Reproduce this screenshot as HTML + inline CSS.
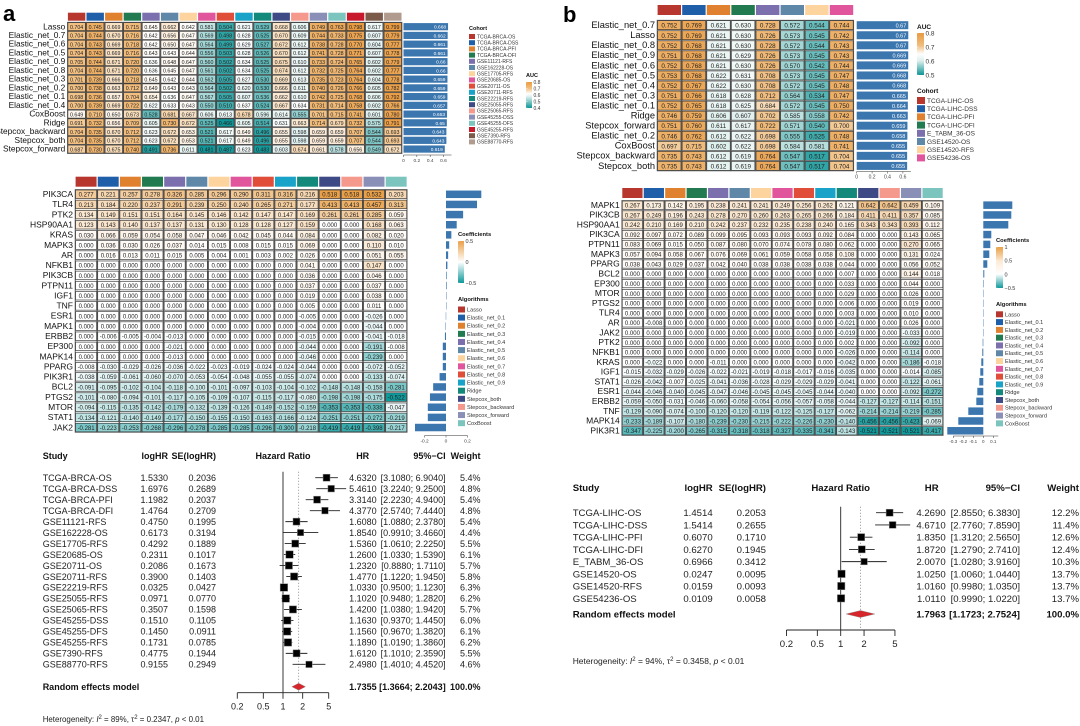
<!DOCTYPE html>
<html><head><meta charset="utf-8"><style>
html,body{margin:0;padding:0;background:#fff;}
svg{display:block;font-family:"Liberation Sans",Arial,sans-serif;}
</style></head><body>
<svg id="fig" width="1080" height="726" viewBox="0 0 1080 726" xmlns="http://www.w3.org/2000/svg">
<text x="3" y="21" font-size="22" font-weight="bold">a</text>
<text x="563" y="22" font-size="22" font-weight="bold">b</text>
</svg>
<script>
// ---------- DATA ----------
const cohortsA=["TCGA-BRCA-OS","TCGA-BRCA-DSS","TCGA-BRCA-PFI","TCGA-BRCA-DFI","GSE11121-RFS","GSE162228-OS","GSE17705-RFS","GSE20685-OS","GSE20711-OS","GSE20711-RFS","GSE22219-RFS","GSE25055-RFS","GSE25065-RFS","GSE45255-DSS","GSE45255-DFS","GSE45255-RFS","GSE7390-RFS","GSE88770-RFS"];
const cohortsB=["TCGA-LIHC-OS","TCGA-LIHC-DSS","TCGA-LIHC-PFI","TCGA-LIHC-DFI","E_TABM_36-OS","GSE14520-OS","GSE14520-RFS","GSE54236-OS"];
const algorithms=["Lasso","Elastic_net_0.1","Elastic_net_0.2","Elastic_net_0.3","Elastic_net_0.4","Elastic_net_0.5","Elastic_net_0.6","Elastic_net_0.7","Elastic_net_0.8","Elastic_net_0.9","Ridge","Stepcox_both","Stepcox_backward","Stepcox_forward","CoxBoost"];
const aucRowsA=["Lasso","Elastic_net_0.7","Elastic_net_0.6","Elastic_net_0.5","Elastic_net_0.9","Elastic_net_0.8","Elastic_net_0.3","Elastic_net_0.2","Elastic_net_0.1","Elastic_net_0.4","CoxBoost","Ridge","Stepcox_backward","Stepcox_both","Stepcox_forward"];
const aucA=[
[.704,.745,.669,.715,.645,.662,.642,.581,.504,.621,.529,.668,.606,.749,.763,.798,.617,.799],
[.704,.744,.670,.716,.642,.656,.647,.569,.498,.628,.525,.670,.609,.744,.733,.775,.607,.779],
[.704,.743,.669,.718,.642,.650,.647,.564,.499,.629,.527,.672,.612,.738,.728,.770,.604,.777],
[.704,.743,.669,.716,.643,.643,.644,.556,.503,.628,.526,.670,.612,.741,.728,.771,.607,.778],
[.705,.744,.671,.720,.636,.648,.647,.560,.502,.634,.525,.675,.610,.733,.724,.765,.602,.779],
[.704,.744,.671,.720,.636,.645,.647,.561,.502,.634,.525,.674,.612,.732,.725,.764,.602,.777],
[.701,.739,.666,.718,.645,.642,.644,.562,.505,.627,.530,.669,.613,.735,.723,.764,.604,.778],
[.700,.738,.663,.712,.649,.643,.643,.564,.502,.620,.530,.666,.611,.740,.726,.766,.605,.782],
[.698,.736,.657,.704,.654,.636,.647,.567,.505,.607,.536,.662,.610,.742,.725,.768,.606,.792],
[.700,.739,.669,.722,.622,.633,.643,.550,.510,.637,.524,.667,.634,.731,.714,.758,.602,.766],
[.649,.710,.650,.673,.528,.681,.667,.606,.613,.678,.596,.614,.555,.701,.715,.741,.601,.780],
[.691,.732,.656,.709,.605,.730,.672,.525,.466,.605,.514,.631,.663,.714,.679,.732,.575,.791],
[.704,.735,.670,.712,.623,.672,.653,.521,.617,.649,.496,.655,.598,.659,.659,.707,.544,.693],
[.704,.735,.670,.712,.623,.672,.653,.521,.617,.649,.496,.655,.598,.659,.659,.707,.544,.693],
[.687,.730,.675,.740,.491,.736,.611,.481,.487,.623,.483,.603,.674,.661,.578,.656,.549,.672]];
const aucMeanA=[.668,.662,.661,.661,.66,.66,.659,.659,.659,.657,.653,.65,.643,.643,.619];
const aucRowsB=["Elastic_net_0.7","Lasso","Elastic_net_0.8","Elastic_net_0.9","Elastic_net_0.6","Elastic_net_0.5","Elastic_net_0.4","Elastic_net_0.3","Elastic_net_0.1","Ridge","Stepcox_forward","Elastic_net_0.2","CoxBoost","Stepcox_backward","Stepcox_both"];
const aucB=[
[.752,.769,.621,.630,.728,.572,.544,.744],[.752,.769,.621,.630,.726,.573,.545,.742],
[.752,.768,.621,.630,.728,.572,.544,.743],[.751,.768,.621,.629,.726,.573,.545,.743],
[.752,.768,.621,.630,.726,.570,.542,.744],[.753,.768,.622,.631,.708,.573,.545,.747],
[.752,.767,.622,.630,.708,.572,.545,.748],[.751,.766,.618,.628,.712,.564,.534,.747],
[.752,.765,.618,.625,.684,.572,.545,.750],[.746,.759,.606,.607,.702,.585,.558,.742],
[.751,.760,.611,.617,.722,.571,.540,.700],[.746,.762,.612,.622,.698,.555,.525,.748],
[.697,.715,.602,.622,.698,.584,.581,.741],[.735,.743,.612,.619,.764,.547,.517,.704],
[.735,.743,.612,.619,.764,.547,.517,.704]];
const aucMeanB=[.67,.67,.67,.669,.669,.668,.668,.665,.664,.663,.659,.658,.655,.655,.655];
const genesA=["PIK3CA","TLR4","PTK2","HSP90AA1","KRAS","MAPK3","AR","NFKB1","PIK3CB","PTPN11","IGF1","TNF","ESR1","MAPK1","ERBB2","EP300","MAPK14","PPARG","PIK3R1","BCL2","PTGS2","MTOR","STAT1","JAK2"];
const coefA=[
[.277,.221,.257,.278,.326,.285,.296,.290,.311,.316,.216,.518,.518,.532,.203],
[.213,.184,.220,.237,.291,.239,.250,.240,.265,.271,.177,.413,.413,.457,.313],
[.134,.149,.151,.151,.164,.145,.146,.142,.147,.147,.169,.261,.261,.285,.059],
[.123,.143,.140,.137,.137,.131,.130,.128,.128,.127,.159,0,0,.168,.063],
[.030,.066,.059,.054,.058,.047,.046,.042,.045,.044,.084,0,0,.082,.020],
[0,.036,.030,.026,.037,.014,.015,.008,.015,.015,.069,0,0,.110,.010],
[0,.016,.013,.011,.015,.005,.004,.001,.003,.002,.026,0,0,.051,.055],
[0,0,0,0,0,0,0,0,0,0,.041,0,0,.147,0],
[0,0,0,0,0,0,0,0,0,0,.036,0,0,.046,0],
[0,0,0,0,0,0,0,0,0,0,.037,0,0,.037,0],
[0,0,0,0,0,0,0,0,0,0,.019,0,0,.038,0],
[0,0,0,0,0,0,0,0,0,0,.005,0,0,.011,0],
[0,0,0,0,0,0,0,0,0,0,-.005,0,0,-.026,0],
[0,0,0,0,0,0,0,0,0,0,-.004,0,0,-.044,0],
[0,-.006,-.005,-.004,-.013,0,0,0,0,0,-.015,0,0,-.041,-.018],
[0,0,0,0,-.021,0,0,0,0,0,-.044,0,0,-.191,-.008],
[0,0,0,0,-.013,0,0,0,0,0,-.046,0,0,-.239,0],
[-.008,-.030,-.029,-.026,-.036,-.022,-.023,-.019,-.024,-.024,-.044,0,0,-.072,-.052],
[-.038,-.059,-.061,-.060,-.070,-.053,-.054,-.048,-.055,-.055,-.074,0,0,-.133,-.074],
[-.091,-.095,-.102,-.104,-.118,-.100,-.101,-.097,-.103,-.104,-.102,-.148,-.148,-.158,-.281],
[-.101,-.080,-.094,-.101,-.117,-.105,-.109,-.107,-.115,-.117,-.080,-.198,-.198,-.175,-.522],
[-.094,-.115,-.135,-.142,-.179,-.132,-.139,-.126,-.149,-.152,-.159,-.353,-.353,-.338,-.047],
[-.134,-.121,-.140,-.149,-.177,-.150,-.155,-.150,-.163,-.166,-.124,-.251,-.251,-.272,-.219],
[-.281,-.223,-.253,-.268,-.296,-.278,-.285,-.285,-.296,-.300,-.218,-.419,-.419,-.398,-.217]];
const coefMeanA=[.33,.29,.16,.1,.05,.03,.02,.013,.006,.006,.004,.002,-.002,-.004,-.01,-.03,-.03,-.03,-.06,-.12,-.15,-.17,-.17,-.29];
const genesB=["MAPK1","PIK3CB","HSP90AA1","PIK3CA","PTPN11","MAPK3","PPARG","BCL2","EP300","MTOR","PTGS2","TLR4","AR","JAK2","PTK2","NFKB1","KRAS","IGF1","STAT1","ESR1","ERBB2","TNF","MAPK14","PIK3R1"];
const coefB=[
[.267,.173,.142,.195,.238,.241,.241,.249,.256,.262,.121,.642,.642,.459,.109],
[.267,.249,.196,.243,.278,.270,.260,.263,.265,.266,.184,.411,.411,.357,.085],
[.242,.210,.169,.210,.242,.237,.232,.235,.238,.240,.165,.343,.343,.393,.112],
[.092,.097,.072,.089,.099,.095,.093,.093,.093,.092,.084,0,0,.143,.065],
[.083,.069,.015,.050,.087,.080,.070,.074,.078,.080,.062,0,0,.270,.065],
[.057,.094,.058,.067,.076,.069,.061,.059,.058,.058,.108,0,0,.131,.024],
[.038,.043,.029,.037,.042,.040,.038,.038,.038,.038,.044,0,0,.056,.052],
[0,0,0,0,0,0,0,0,0,0,.007,0,0,.144,.018],
[0,0,0,0,0,0,0,0,0,0,.033,0,0,.044,0],
[0,0,0,0,0,0,0,0,0,0,.029,0,0,.026,0],
[0,0,0,0,0,0,0,0,0,0,.006,0,0,.019,0],
[0,0,0,0,0,0,0,0,0,0,.003,0,0,.010,0],
[0,-.008,0,0,0,0,0,0,0,0,-.021,0,0,.026,0],
[0,0,0,0,0,0,0,0,0,0,-.019,0,0,-.033,0],
[0,0,0,0,0,0,0,0,0,0,.002,0,0,-.092,0],
[0,0,0,0,0,0,0,0,0,0,-.026,0,0,-.114,0],
[0,-.022,0,0,-.011,0,0,0,0,0,-.042,0,0,-.186,-.018],
[-.015,-.032,-.029,-.026,-.022,-.021,-.019,-.018,-.017,-.016,-.035,0,0,-.014,-.085],
[-.026,-.042,-.007,-.025,-.041,-.036,-.028,-.029,-.029,-.029,-.041,0,0,-.122,-.061],
[-.044,-.046,-.040,-.045,-.047,-.046,-.045,-.045,-.045,-.044,-.040,0,0,-.092,-.272],
[-.059,-.050,-.031,-.046,-.060,-.058,-.054,-.056,-.057,-.058,-.044,-.127,-.127,-.114,-.151],
[-.129,-.090,-.074,-.100,-.120,-.120,-.119,-.122,-.125,-.127,-.062,-.214,-.214,-.219,-.285],
[-.233,-.189,-.107,-.180,-.239,-.230,-.215,-.222,-.226,-.230,-.140,-.456,-.456,-.423,-.069],
[-.347,-.225,-.200,-.265,-.315,-.318,-.318,-.327,-.335,-.341,-.143,-.521,-.521,-.521,-.417]];
const coefMeanB=[.29,.28,.25,.08,.07,.06,.04,.01,.005,.004,.002,.001,-.002,-.003,-.006,-.01,-.02,-.03,-.04,-.06,-.07,-.15,-.25,-.36];
const studiesA=["TCGA-BRCA-OS","TCGA-BRCA-DSS","TCGA-BRCA-PFI","TCGA-BRCA-DFI","GSE11121-RFS","GSE162228-OS","GSE17705-RFS","GSE20685-OS","GSE20711-OS","GSE20711-RFS","GSE22219-RFS","GSE25055-RFS","GSE25065-RFS","GSE45255-DSS","GSE45255-DFS","GSE45255-RFS","GSE7390-RFS","GSE88770-RFS"];
const logHRA=["1.5330","1.6976","1.1982","1.4764","0.4750","0.6173","0.4292","0.2311","0.2086","0.3900","0.0325","0.0971","0.3507","0.1510","0.1450","0.1731","0.4775","0.9155"];
const seA=["0.2036","0.2689","0.2037","0.2709","0.1995","0.3194","0.1889","0.1017","0.1673","0.1403","0.0427","0.0770","0.1598","0.1105","0.0911","0.0785","0.1944","0.2949"];
const hrA=[4.632,5.461,3.314,4.377,1.608,1.854,1.536,1.260,1.232,1.477,1.033,1.102,1.420,1.163,1.156,1.189,1.612,2.498];
const loA=[3.108,3.224,2.223,2.574,1.088,0.991,1.061,1.033,0.888,1.122,0.950,0.948,1.038,0.937,0.967,1.019,1.101,1.401];
const hiA=[6.904,9.250,4.940,7.444,2.378,3.466,2.225,1.539,1.711,1.945,1.123,1.282,1.942,1.445,1.382,1.386,2.359,4.452];
const wA=[5.4,4.8,5.4,4.8,5.4,4.4,5.5,6.1,5.7,5.8,6.3,6.2,5.7,6.0,6.1,6.2,5.5,4.6];
const sumA=[1.7355,1.3664,2.2043];
const studiesB=["TCGA-LIHC-OS","TCGA-LIHC-DSS","TCGA-LIHC-PFI","TCGA-LIHC-DFI","E_TABM_36-OS","GSE14520-OS","GSE14520-RFS","GSE54236-OS"];
const logHRB=["1.4514","1.5414","0.6070","0.6270","0.6966","0.0247","0.0159","0.0109"];
const seB=["0.2053","0.2655","0.1710","0.1945","0.3412","0.0095","0.0093","0.0058"];
const hrB=[4.269,4.671,1.835,1.872,2.007,1.025,1.016,1.011];
const loB=[2.855,2.776,1.312,1.279,1.028,1.006,0.998,0.999];
const hiB=[6.383,7.859,2.565,2.741,3.916,1.044,1.035,1.022];
const wB=[12.2,11.4,12.6,12.4,10.3,13.7,13.7,13.7];
const sumB=[1.7963,1.1723,2.7524];
const hrTicks=[0.2,0.5,1,2,5];
const palette=["#B7372F","#1F5FAA","#E0812F","#217A50","#7B6FAE","#5E87A8","#FDD49E","#E0559B","#E04E3A","#1AA3C8","#12897A","#3E4A85","#F4998B","#8A8FB8","#7CC5BF","#C8182B","#7B5A4A","#B19A8E"];

// ---------- HELPERS ----------
const NS="http://www.w3.org/2000/svg";
const svg=document.getElementById('fig');
function mk(tag,attrs,name,parent){
  const el=document.createElementNS(NS,tag);
  for(const k in attrs) el.setAttribute(k,attrs[k]);
  
  
  (parent||svg).appendChild(el);
  return el;
}
function txt(x,y,s,size,name,opt){
  opt=opt||{};
  const t=mk('text',Object.assign({x:x,y:y,'font-size':size,fill:'#111'},opt),name);
  t.textContent=s; return t;
}
function hex(c){return [parseInt(c.slice(1,3),16),parseInt(c.slice(3,5),16),parseInt(c.slice(5,7),16)];}
function scale(stops){
  return function(v){
    if(v<=stops[0][0]) return stops[0][1];
    for(let i=1;i<stops.length;i++){
      if(v<=stops[i][0]){
        const a=hex(stops[i-1][1]),b=hex(stops[i][1]);
        const t=(v-stops[i-1][0])/(stops[i][0]-stops[i-1][0]);
        return 'rgb('+a.map((x,j)=>Math.round(x+(b[j]-x)*t)).join(',')+')';
      }
    }
    return stops[stops.length-1][1];
  };
}
const aucColA=scale([[0.48,'#0E9597'],[0.6,'#E2F2F0'],[0.64,'#FFFFFF'],[0.7,'#F2C184'],[0.8,'#E99A40']]);
const aucColB=scale([[0.5,'#0E9597'],[0.6,'#DDEFEC'],[0.65,'#FFFFFF'],[0.71,'#F0BE80'],[0.8,'#E99A40']]);
const coefColA=scale([[-0.5,'#10999B'],[0,'#FFFFFF'],[0.5,'#E9A048']]);
const coefColB=scale([[-0.5,'#10999B'],[0,'#FFFFFF'],[1,'#E9A048']]);
function fmt(v,d){return v.toFixed(d===undefined?3:d);}

function heatmap(o){
  const nR=o.data.length,nC=o.data[0].length;
  for(let j=0;j<nC;j++){
    mk('rect',{x:o.x0+j*o.cw+0.6,y:o.stripY,width:o.cw-1.2,height:o.stripH,fill:palette[j]},o.name+'-strip-'+j);
  }
  for(let i=0;i<nR;i++){
    const y=o.y0+i*o.rp;
    txt(o.x0-2,y+o.ch*0.82,o.rows[i],o.lfs,o.name+'-row-label',{'text-anchor':'end'});
    for(let j=0;j<nC;j++){
      const v=o.data[i][j];
      const x=o.x0+j*o.cw+0.6;
      mk('rect',{x:x,y:y,width:o.cw-1.2,height:o.ch,fill:o.col(v),stroke:'#222','stroke-width':0.6},o.name+'-cell');
      txt(x+(o.cw-1.2)/2,y+o.ch*0.78,fmt(v),o.cfs,o.name+'-cell-value',{'text-anchor':'middle',fill:'#222'});
    }
  }
  for(let j=0;j<nC;j++){
    mk('rect',{x:o.x0+j*o.cw+0.2,y:o.y0-0.4,width:o.cw-0.4,height:(nR-1)*o.rp+o.ch+0.8,fill:'none',stroke:'#555','stroke-width':0.9},o.name+'-column-outline');
  }
}
function barsH(o){
  const n=o.vals.length;
  for(let i=0;i<n;i++){
    const v=o.vals[i];
    const y=o.y0+i*o.rp+(o.ch-o.bh)/2;
    const x=v>=0?o.zx:o.zx+v*o.k;
    mk('rect',{x:x,y:y,width:Math.max(Math.abs(v)*o.k,0.4),height:o.bh,fill:'#3B76AE'},o.name+'-bar');
    if(o.labels){
      txt(o.zx+v*o.k-2,y+o.bh*0.78,String(v),o.lfs,o.name+'-bar-label',{'text-anchor':'end',fill:'#fff'});
    }
  }
  mk('line',{x1:o.zx+o.ticks[0]*o.k,x2:o.zx+o.ticks[o.ticks.length-1]*o.k+(o.extra||0),y1:o.axY,y2:o.axY,stroke:'#333','stroke-width':0.6},o.name+'-axis');
  o.ticks.forEach(t=>{
    const x=o.zx+t*o.k;
    mk('line',{x1:x,x2:x,y1:o.axY,y2:o.axY+2,stroke:'#333','stroke-width':0.5},o.name+'-tick');
    txt(x,o.axY+7,String(t),o.tfs,o.name+'-tick-label',{'text-anchor':'middle',fill:'#444'});
  });
}
function legendSw(o){
  txt(o.x,o.ty,o.title,o.tfs,o.name+'-title',{'font-weight':'bold'});
  o.items.forEach((s,i)=>{
    const y=o.y0+i*o.p;
    mk('rect',{x:o.x,y:y-o.s/2,width:o.s+1,height:o.s,fill:palette[i]},o.name+'-swatch');
    txt(o.x+o.s+3,y+o.fs*0.35,s,o.fs,o.name+'-entry',{fill:'#333'});
  });
}
function gradLegend(o){
  txt(o.x,o.ty,o.title,o.tfs,o.name+'-title',{'font-weight':'bold'});
  const id='g'+o.name;
  const defs=mk('defs',{},o.name+'-defs');
  const lg=mk('linearGradient',{id:id,x1:0,y1:0,x2:0,y2:1},o.name+'-gradient',defs);
  o.stops.forEach(s=>mk('stop',{offset:s[0],'stop-color':s[1]},o.name+'-stop',lg));
  mk('rect',{x:o.x,y:o.y0,width:o.w,height:o.h,fill:'url(#'+id+')'},o.name+'-bar');
  o.labels.forEach((l,i)=>{
    const y=o.y0+o.h*i/(o.labels.length-1);
    mk('line',{x1:o.x,x2:o.x+1.5,y1:y,y2:y,stroke:'#fff','stroke-width':0.5},o.name+'-tick');
    txt(o.x+o.w+1.5,y+o.fs*0.35,l,o.fs,o.name+'-label',{fill:'#333'});
  });
}
function forest(o){
  const X=v=>o.x1+o.k*Math.log(v);
  const H=o.hdrY, f=o.fs;
  txt(o.cStudy,H,'Study',f,o.name+'-header-study',{'font-weight':'bold'});
  txt(o.cLog,H,'logHR',f,o.name+'-header-loghr',{'font-weight':'bold','text-anchor':'end'});
  txt(o.cSe,H,'SE(logHR)',f,o.name+'-header-se',{'font-weight':'bold','text-anchor':'end'});
  txt(o.x1,H,'Hazard Ratio',f,o.name+'-header-hazard-ratio',{'font-weight':'bold','text-anchor':'middle'});
  txt(o.cHr-14,H,'HR',f,o.name+'-header-hr',{'font-weight':'bold','text-anchor':'middle'});
  txt(o.cCi,H,'95%\u2212CI',f,o.name+'-header-ci',{'font-weight':'bold','text-anchor':'end'});
  txt(o.cW,H,'Weight',f,o.name+'-header-weight',{'font-weight':'bold','text-anchor':'end'});
  const n=o.st.length;
  mk('line',{x1:o.x1,x2:o.x1,y1:o.y0-6,y2:o.axY,stroke:'#222','stroke-width':0.9},o.name+'-null-line');
  mk('line',{x1:X(o.sum[0]),x2:X(o.sum[0]),y1:o.y0-6,y2:o.axY,stroke:'#777','stroke-width':0.8,'stroke-dasharray':'1,2'},o.name+'-summary-line');
  for(let i=0;i<n;i++){
    const y=o.y0+i*o.rp;
    txt(o.cStudy,y+f*0.36,o.st[i],f,o.name+'-study-label',{fill:'#222'});
    txt(o.cLog,y+f*0.36,o.lg[i],f,o.name+'-loghr',{'text-anchor':'end',fill:'#222'});
    txt(o.cSe,y+f*0.36,o.se[i],f,o.name+'-se',{'text-anchor':'end',fill:'#222'});
    mk('line',{x1:X(o.lo[i]),x2:X(o.hi[i]),y1:y,y2:y,stroke:'#222','stroke-width':0.9},o.name+'-ci-line');
    const s=Math.sqrt(o.w[i])*o.sq;
    mk('rect',{x:X(o.hr[i])-s/2,y:y-s/2,width:s,height:s,fill:'#000',stroke:'#888','stroke-width':0.5},o.name+'-point');
    txt(o.cHr,y+f*0.36,o.hr[i].toFixed(4),f,o.name+'-hr-value',{'text-anchor':'end',fill:'#222'});
    txt(o.cCi,y+f*0.36,'['+o.lo[i].toFixed(4)+'; '+o.hi[i].toFixed(4)+']',f,o.name+'-ci-value',{'text-anchor':'end',fill:'#222'});
    txt(o.cW,y+f*0.36,o.w[i].toFixed(1)+'%',f,o.name+'-weight-value',{'text-anchor':'end',fill:'#222'});
  }
  const ys=o.sumY;
  txt(o.cStudy,ys+f*0.36,'Random effects model',f,o.name+'-summary-label',{'font-weight':'bold'});
  mk('polygon',{points:[X(o.sum[1])+','+ys,X(o.sum[0])+','+(ys-3.5),X(o.sum[2])+','+ys,X(o.sum[0])+','+(ys+3.5)].join(' '),fill:'#D7262B',stroke:'#888','stroke-width':0.4},o.name+'-summary-diamond');
  txt(o.cHr,ys+f*0.36,o.sum[0].toFixed(4),f,o.name+'-summary-hr',{'text-anchor':'end','font-weight':'bold'});
  txt(o.cCi,ys+f*0.36,'['+o.sum[1].toFixed(4)+'; '+o.sum[2].toFixed(4)+']',f,o.name+'-summary-ci',{'text-anchor':'end','font-weight':'bold'});
  txt(o.cW,ys+f*0.36,'100.0%',f,o.name+'-summary-weight',{'text-anchor':'end','font-weight':'bold'});
  mk('line',{x1:X(hrTicks[0]),x2:X(hrTicks[hrTicks.length-1]),y1:o.axY,y2:o.axY,stroke:'#222','stroke-width':0.9},o.name+'-x-axis');
  hrTicks.forEach(t=>{
    mk('line',{x1:X(t),x2:X(t),y1:o.axY,y2:o.axY+6,stroke:'#222','stroke-width':0.9},o.name+'-x-tick');
    txt(X(t),o.axY+17,String(t),f,o.name+'-x-tick-label',{'text-anchor':'middle',fill:'#222'});
  });
  const h=txt(o.cStudy,o.hetY,'',f*0.88,o.name+'-heterogeneity',{fill:'#222'});
  h.innerHTML='Heterogeneity: <tspan font-style="italic">I</tspan><tspan dy="-3" font-size="6">2</tspan><tspan dy="3"> = '+o.het[0]+', \u03C4</tspan><tspan dy="-3" font-size="6">2</tspan><tspan dy="3"> = '+o.het[1]+', </tspan><tspan font-style="italic">p</tspan> &lt; 0.01';
}

// ---------- PANEL A ----------
heatmap({name:'auc-heatmap-a',data:aucA,rows:aucRowsA,x0:67.3,cw:18.6,y0:22.7,rp:8.74,ch:8,stripY:12.7,stripH:8,lfs:8.3,cfs:5.3,col:aucColA});
barsH({name:'auc-bars-a',vals:aucMeanA,zx:403.5,k:66.7,y0:22.7,rp:8.74,ch:8,bh:7.2,labels:true,lfs:4.8,ticks:[0,0.2,0.4,0.6],axY:155,tfs:4.8,extra:8});
legendSw({name:'cohort-legend-a',title:'Cohort',x:469,ty:30,tfs:5.5,items:cohortsA,y0:36.5,p:6.2,s:5,fs:5});
gradLegend({name:'auc-legend-a',title:'AUC',x:526,ty:77,tfs:5.5,y0:82,w:6,h:26,fs:5,labels:['0.8','0.7','0.6','0.5','0.4'],stops:[[0,'#E99A40'],[0.25,'#F2C184'],[0.45,'#FFFFFF'],[0.55,'#E2F2F0'],[1,'#0E9597']]});
heatmap({name:'coef-heatmap-a',data:coefA,rows:genesA,x0:75,cw:22.15,y0:190,rp:10.14,ch:8.6,stripY:176.7,stripH:10,lfs:8.5,cfs:6,col:coefColA});
barsH({name:'coef-bars-a',vals:coefMeanA,zx:446,k:107,y0:190,rp:10.14,ch:8.6,bh:7.5,labels:false,ticks:[-0.2,0,0.2],axY:435.5,tfs:4.8,extra:0});
gradLegend({name:'coef-legend-a',title:'Coefficients',x:458,ty:236,tfs:5.8,y0:241,w:6,h:42,fs:5.5,labels:['0.5','0','\u22120.5'],stops:[[0,'#E9A048'],[0.5,'#FFFFFF'],[1,'#10999B']]});
legendSw({name:'algorithm-legend-a',title:'Algorithms',x:458,ty:301,tfs:5.8,items:algorithms,y0:309.5,p:8.12,s:6,fs:5.6});
forest({name:'forest-a',st:studiesA,lg:logHRA,se:seA,hr:hrA,lo:loA,hi:hiA,w:wA,sum:sumA,x1:283,k:28.4,y0:477.7,rp:10.98,sumY:686.7,axY:692.7,hdrY:459,hetY:722,fs:9,sq:3,cStudy:42.7,cLog:168,cSe:216,cHr:376.7,cCi:445.7,cW:480.5,het:['89%','0.2347']});

// ---------- PANEL B ----------
heatmap({name:'auc-heatmap-b',data:aucB,rows:aucRowsB,x0:657,cw:24.6,y0:20.7,rp:10.05,ch:9,stripY:5,stripH:10,lfs:9.3,cfs:6.3,col:aucColB});
barsH({name:'auc-bars-b',vals:aucMeanB,zx:856.7,k:77,y0:20.7,rp:10.05,ch:9,bh:8,labels:true,lfs:5.5,ticks:[0,0.2,0.4,0.6],axY:171.5,tfs:5,extra:8});
gradLegend({name:'auc-legend-b',title:'AUC',x:917,ty:29,tfs:6.5,y0:33,w:7,h:42,fs:6.5,labels:['0.8','0.7','0.6','0.5'],stops:[[0,'#E99A40'],[0.3,'#F0BE80'],[0.5,'#FFFFFF'],[0.66,'#DDEFEC'],[1,'#0E9597']]});
legendSw({name:'cohort-legend-b',title:'Cohort',x:917,ty:93,tfs:6.5,items:cohortsB,y0:100.5,p:8.2,s:7,fs:6.5});
heatmap({name:'coef-heatmap-b',data:coefB,rows:genesB,x0:621.7,cw:21.44,y0:201,rp:9.81,ch:8.3,stripY:188,stripH:10,lfs:8.5,cfs:6,col:coefColB});
barsH({name:'coef-bars-b',vals:coefMeanB,zx:983.3,k:100,y0:201,rp:9.81,ch:8.3,bh:7.5,labels:false,ticks:[-0.3,-0.2,-0.1,0,0.1],axY:436,tfs:4.5,extra:5});
gradLegend({name:'coef-legend-b',title:'Coefficients',x:996,ty:242,tfs:5.8,y0:247,w:7,h:41,fs:5.5,labels:['1','0.5','0','\u22120.5'],stops:[[0,'#E9A048'],[0.35,'#FCEBD6'],[0.66,'#FFFFFF'],[1,'#10999B']]});
legendSw({name:'algorithm-legend-b',title:'Algorithms',x:996,ty:306,tfs:5.8,items:algorithms,y0:314.3,p:7.79,s:6,fs:5.6});
forest({name:'forest-b',st:studiesB,lg:logHRB,se:seB,hr:hrB,lo:loB,hi:hiB,w:wB,sum:sumB,x1:840.7,k:33.7,y0:512.7,rp:12.23,sumY:614,axY:630,hdrY:491,hetY:664,fs:9.6,sq:2,cStudy:572.7,cLog:712.7,cSe:766,cHr:945.7,cCi:1020,cW:1079,het:['94%','0.3458']});
</script>
</body></html>
